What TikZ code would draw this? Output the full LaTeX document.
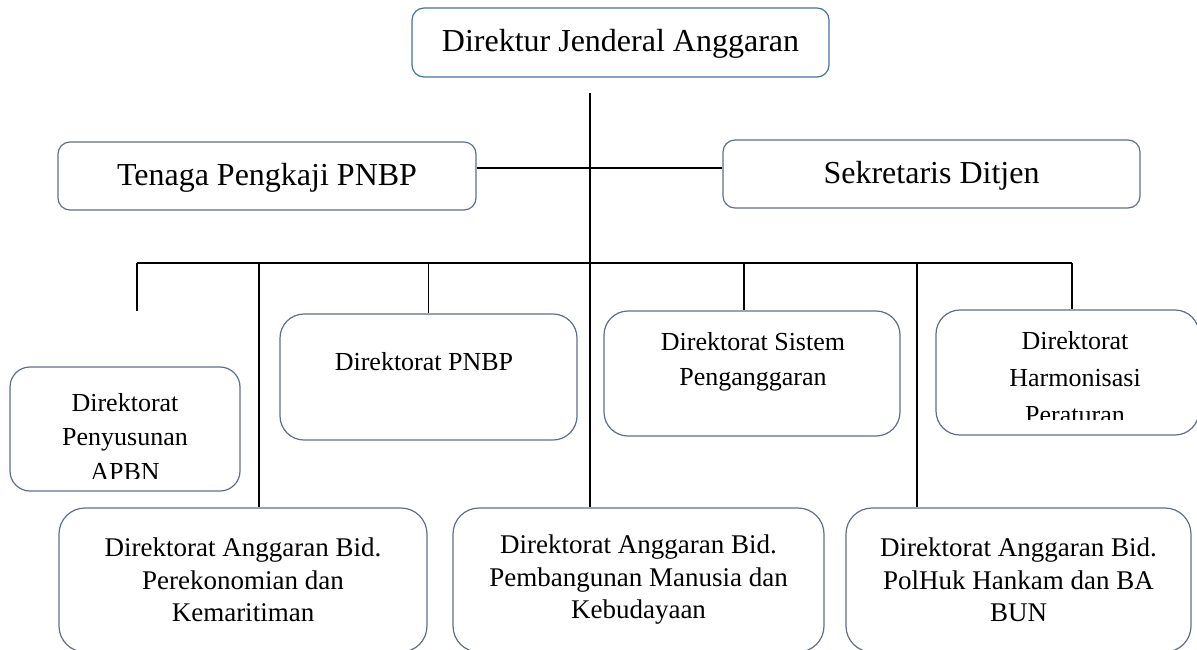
\documentclass[tikz,border=0pt]{standalone}
\usepackage{fontspec}
\setmainfont{Liberation Serif}
\definecolor{boxblue}{RGB}{68,114,160}
\definecolor{boxgrey}{RGB}{96,110,132}

\begin{document}
\begin{tikzpicture}[x=0.5pt, y=-0.5pt,
    unit/.style={draw=boxgrey, line width=0.6pt, rounded corners=#1, inner sep=0pt},
    unit/.default=6pt,
    big/.style={font=\fontsize{16}{19}\selectfont, text height=12pt, text depth=3pt},
    small/.style={font=\fontsize{13}{17.5}\selectfont, align=center},
    bus/.style={line width=1.1pt},
    drop/.style={line width=0.7pt}]
    \path [use as bounding box, clip] (0,0) rectangle (1197,649);

    \node (dirjen) [unit, draw=boxblue, big, minimum width=208.5pt, minimum height=34.5pt] at (620.5,42.5) {Direktur Jenderal Anggaran};
    \node (tenaga) [unit, big, minimum width=209pt, minimum height=34pt] at (267,176) {Tenaga Pengkaji PNBP};
    \node (sekretaris) [unit, big, minimum width=208.5pt, minimum height=34pt] at (931.5,174) {Sekretaris Ditjen};

    \node (pny) [unit=10pt, minimum width=115pt, minimum height=62pt] at (125,429) {};
    \node (pnbp) [unit=12pt, minimum width=148.5pt, minimum height=63pt] at (428.5,377) {};
    \node (sistem) [unit=12pt, minimum width=148pt, minimum height=62.5pt] at (752,373.5) {};
    \node (harmon) [unit=12pt, minimum width=131.5pt, minimum height=62.5pt] at (1067.5,372.5) {};

    \node (pnbptext) [small] at (424,362) {Direktorat PNBP};
    \node (sistemtext) [small] at (753,362) {Direktorat Sistem\\Penganggaran};
    \begin{scope}
        \clip ([yshift=6.5pt]pny.south west) rectangle (pny.north east);
        \node (pnytext) [small, font=\fontsize{13}{17.25}\selectfont] at (125,437) {Direktorat\\Penyusunan\\APBN};
    \end{scope}
    \begin{scope}
        \clip ([yshift=8pt]harmon.south west) rectangle (harmon.north east);
        \node (harmontext) [small, font=\fontsize{13}{18.5}\selectfont] at (1075,378) {Direktorat\\Harmonisasi\\Peraturan};
    \end{scope}

    \node (bleft) [unit=13pt, small, font=\fontsize{13.5}{16.25}\selectfont, minimum width=184pt, minimum height=72pt] at (243,580) {Direktorat Anggaran Bid.\\Perekonomian dan\\Kemaritiman};
    \node (bmid) [unit=13pt, small, font=\fontsize{13.5}{16.25}\selectfont, minimum width=185.5pt, minimum height=72pt] at (638.5,580) {Direktorat Anggaran Bid.\\Pembangunan Manusia dan\\Kebudayaan};
    \node (bright) [unit=13pt, small, font=\fontsize{13.5}{16.25}\selectfont, minimum width=172.5pt, minimum height=72pt] at (1018.5,580) {Direktorat Anggaran Bid.\\PolHuk Hankam dan BA\\BUN};

    \coordinate (stem) at (590,93);
    \coordinate (cross) at (590,168);
    \coordinate (busl) at (137,263);
    \coordinate (busr) at (1072,263);
    \coordinate (stub) at (137,311);
    \coordinate (d1) at (259,263);
    \coordinate (d3) at (744,263);
    \coordinate (d4) at (917,263);

    \draw [bus] (stem) -- (stem |- bmid.north);
    \draw [line width=0.9pt] (tenaga.east |- cross) -- (sekretaris.west |- cross);
    \draw [bus] (busl) -- (busr);
    \draw [bus] (busl) -- (stub);
    \draw [bus] (d1) -- (d1 |- bleft.north);
    \draw [drop] (pnbp.north) -- (pnbp.north |- busl);
    \draw [drop] (d3) -- (d3 |- sistem.north);
    \draw [drop] (d4) -- (d4 |- bright.north);
    \draw [drop] (busr) -- (busr |- harmon.north);
\end{tikzpicture}
\end{document}
